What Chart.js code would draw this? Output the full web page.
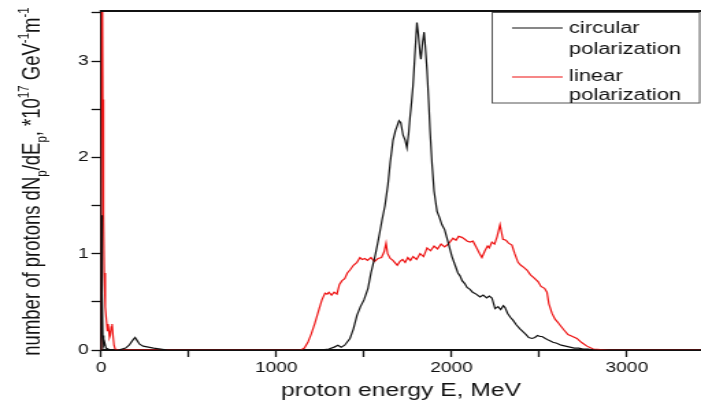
<!DOCTYPE html>
<html><head><meta charset="utf-8">
<script src="https://cdn.jsdelivr.net/npm/chart.js@4/dist/chart.umd.min.js"></script>
<style>
html,body{margin:0;padding:0;background:#fff;overflow:hidden;}
#wrap{position:absolute;left:0;top:0;width:512px;height:408px;transform:scaleX(1.369141);transform-origin:0 0;}
</style></head><body>
<div id="wrap"><canvas id="c" width="512" height="408"></canvas></div>
<script>
// ---- data (energy in MeV, dN/dE in 1e17 GeV^-1 m^-1) ----
const circE = [0,3,6,10,15,20,28,40,60,100,140,160,180,194,205,220,240,270,300,340,380,1250,1300,1330,1352,1370,1390,1420,1440,1460,1480,1500,1523,1540,1560,1574,1590,1603,1620,1637,1650,1666,1680,1688,1700,1710,1723,1735,1745,1755,1763,1772,1780,1790,1802,1810,1820,1825,1835,1843,1850,1860,1870,1877,1888,1900,1917,1930,1945,1960,1974,1990,2002,2020,2036,2048,2060,2075,2088,2105,2120,2140,2162,2180,2200,2215,2230,2248,2265,2280,2295,2305,2320,2335,2350,2370,2390,2407,2425,2440,2459,2475,2490,2505,2516,2535,2555,2578,2600,2625,2650,2675,2700,2725,2750,2780,2810,3423];
const circV = [0,1.40,0.60,0.15,0.05,0.08,0.02,0.01,0,0,0.02,0.05,0.10,0.13,0.10,0.06,0.04,0.03,0.02,0.01,0,0,0.01,0.03,0.05,0.03,0.05,0.12,0.22,0.36,0.45,0.52,0.64,0.80,0.95,1.07,1.22,1.35,1.50,1.72,1.95,2.18,2.28,2.32,2.38,2.36,2.23,2.18,2.10,2.25,2.42,2.58,2.75,3.05,3.40,3.28,3.08,3.02,3.20,3.30,3.15,2.90,2.55,2.28,1.94,1.65,1.44,1.38,1.30,1.25,1.16,1.05,0.97,0.88,0.80,0.77,0.72,0.69,0.65,0.63,0.60,0.58,0.55,0.57,0.54,0.56,0.54,0.43,0.45,0.42,0.46,0.44,0.38,0.34,0.31,0.26,0.22,0.19,0.16,0.13,0.12,0.13,0.15,0.14,0.14,0.12,0.10,0.08,0.07,0.05,0.04,0.03,0.02,0.02,0.01,0.01,0,0];
const linE = [0,2,6,10,14,18,24,30,36,40,44,48,52,58,63,68,74,80,100,1140,1160,1180,1200,1220,1240,1260,1278,1290,1300,1315,1330,1346,1360,1375,1390,1405,1420,1440,1460,1477,1490,1505,1520,1540,1560,1580,1600,1615,1626,1635,1650,1665,1680,1690,1705,1720,1735,1750,1765,1780,1800,1820,1840,1860,1880,1900,1920,1940,1960,1974,1990,2008,2025,2040,2059,2075,2090,2105,2122,2140,2160,2173,2190,2205,2215,2230,2245,2260,2276,2285,2293,2310,2325,2344,2360,2379,2395,2410,2430,2450,2470,2493,2510,2530,2544,2555,2573,2590,2605,2618,2640,2664,2690,2715,2740,2772,2808,2850,2900,3423];
const linV = [0,6.0,4.5,2.6,1.4,0.8,0.45,0.32,0.20,0.27,0.20,0.13,0.15,0.24,0.27,0.15,0.05,0.01,0,0,0.02,0.08,0.17,0.28,0.40,0.52,0.59,0.58,0.60,0.57,0.60,0.58,0.68,0.72,0.74,0.80,0.83,0.88,0.91,0.96,0.94,0.95,0.93,0.96,0.92,0.95,0.96,1.02,1.11,1.00,0.95,0.93,0.90,0.88,0.92,0.94,0.91,0.96,0.93,0.97,0.94,1.00,0.97,1.06,1.03,1.08,1.05,1.10,1.07,1.09,1.12,1.16,1.14,1.18,1.17,1.15,1.13,1.12,1.13,1.07,1.00,0.96,1.03,1.08,1.06,1.12,1.10,1.18,1.30,1.22,1.15,1.14,1.11,1.09,1.00,0.91,0.88,0.86,0.83,0.78,0.75,0.71,0.66,0.64,0.60,0.48,0.38,0.32,0.29,0.26,0.21,0.16,0.14,0.12,0.08,0.04,0.01,0.005,0,0];
const xTickValues = [0,500,1000,1500,2000,2500,3000];
const yTickValues = [0,0.5,1,1.5,2,2.5,3,3.5];
const seriesLabels = [['circular','polarization'],['linear','polarization']];
const seriesColors = ['#111111', '#ee1111'];
const xTitle = 'proton energy E, MeV';
const yTitleParts = [['number of protons dN','n'],['p','sub'],['/dE','n'],['p','sub'],[', *10','n'],['17','sup'],[' GeV','n'],['-1','sup'],['m','n'],['-1','sup']];

const FAM = '"Liberation Sans", Arial, sans-serif';
Chart.defaults.font.family = FAM;
Chart.defaults.color = '#111';

const toXY = (E, V) => E.map((e, i) => ({x: e, y: V[i]}));

const framePlugin = {id:'frame', afterDraw(chart){
  const ctx = chart.ctx, a = chart.chartArea;
  ctx.save();
  ctx.strokeStyle = '#111'; ctx.lineWidth = 2;
  ctx.beginPath(); ctx.moveTo(a.left - 1, a.top); ctx.lineTo(a.right, a.top); ctx.stroke();
  ctx.restore();
}};

const yTitlePlugin = {id:'yTitle', afterDraw(chart){
  const ctx = chart.ctx, a = chart.chartArea;
  const big = '18.5px ' + FAM, small = '11.5px ' + FAM;
  ctx.save();
  let total = 0; const widths = [];
  for (const [t, k] of yTitleParts) { ctx.font = k === 'n' ? big : small; const w = ctx.measureText(t).width; widths.push(w); total += w; }
  ctx.translate(29, (a.top + a.bottom) / 2 + 1);
  ctx.rotate(-Math.PI / 2);
  ctx.fillStyle = '#111'; ctx.textBaseline = 'alphabetic'; ctx.textAlign = 'left';
  let u = -total / 2;
  yTitleParts.forEach(([t, k], i) => {
    ctx.font = k === 'n' ? big : small;
    const dv = k === 'sub' ? 5 : (k === 'sup' ? -8 : 0);
    ctx.fillText(t, u, dv); u += widths[i];
  });
  ctx.restore();
}};

const legendPlugin = {id:'boxLegend', afterDraw(chart){
  const ctx = chart.ctx;
  const bx = 359.5, by = 12.5, bw = 151.5, bh = 90.5;
  ctx.save();
  ctx.fillStyle = '#fff'; ctx.fillRect(bx, by, bw, bh);
  ctx.strokeStyle = '#555'; ctx.lineWidth = 1; ctx.strokeRect(bx, by, bw, bh);
  ctx.font = '16px ' + FAM; ctx.textBaseline = 'alphabetic'; ctx.textAlign = 'left'; ctx.fillStyle = '#111';
  const lineY = [28, 77]; const baselines = [[33, 54], [81, 100]];
  seriesLabels.forEach((lines, i) => {
    ctx.strokeStyle = seriesColors[i]; ctx.lineWidth = 1.2;
    ctx.beginPath(); ctx.moveTo(374, lineY[i]); ctx.lineTo(411, lineY[i]); ctx.stroke();
    lines.forEach((t, j) => ctx.fillText(t, 415.6, baselines[i][j]));
  });
  ctx.restore();
}};

new Chart(document.getElementById('c'), {
  type: 'line',
  data: {
    datasets: [
      {label: seriesLabels[0].join(' '), data: toXY(circE, circV), borderColor: seriesColors[0], borderWidth: 1.2, pointRadius: 0, tension: 0, fill: false},
      {label: seriesLabels[1].join(' '), data: toXY(linE, linV), borderColor: seriesColors[1], borderWidth: 1.2, pointRadius: 0, tension: 0, fill: false}
    ]
  },
  options: {
    responsive: false, animation: false, devicePixelRatio: 1,
    layout: {padding: {top: 11, right: 0, bottom: 0, left: 0}},
    plugins: {legend: {display: false}, tooltip: {enabled: false}},
    scales: {
      x: {
        type: 'linear', min: 0, max: 3423,
        afterBuildTicks: s => { s.ticks = xTickValues.map(v => ({value: v})); },
        ticks: {callback: v => (v % 1000 === 0 ? String(v) : ''), font: {size: 14}, color: '#111', padding: 3, maxRotation: 0, autoSkip: false},
        grid: {display: true, drawOnChartArea: false, drawTicks: true, tickLength: 7, tickColor: '#111', tickWidth: 1.3},
        border: {display: true, color: '#111', width: 2},
        title: {display: true, text: xTitle, font: {size: 18}, color: '#111', padding: {top: 0, bottom: 6}},
        afterFit: s => { s.height = 58; }
      },
      y: {
        type: 'linear', min: 0, max: 3.52,
        afterBuildTicks: s => { s.ticks = yTickValues.map(v => ({value: v})); },
        ticks: {callback: v => (Number.isInteger(v) ? String(v) : ''), font: {size: 14}, color: '#111', padding: 2, autoSkip: false},
        grid: {display: true, drawOnChartArea: false, drawTicks: true, tickLength: 7, tickColor: '#111', tickWidth: 1.3},
        border: {display: true, color: '#111', width: 1.5},
        afterFit: s => { s.width = 73.8; }
      }
    }
  },
  plugins: [framePlugin, yTitlePlugin, legendPlugin]
});
</script>
</body></html>
